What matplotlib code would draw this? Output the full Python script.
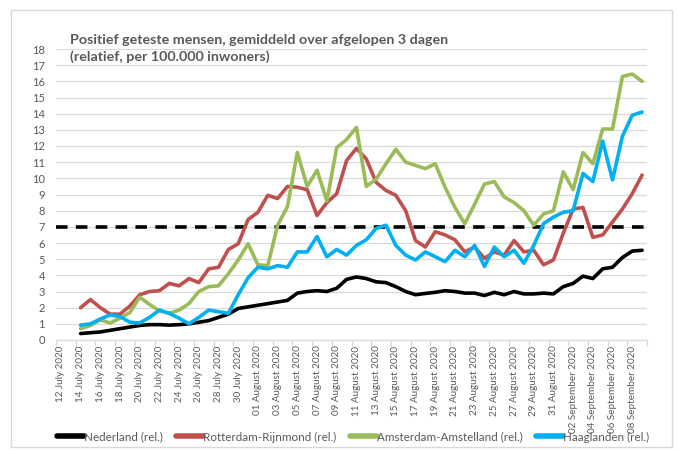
import matplotlib
matplotlib.use("Agg")
import matplotlib.pyplot as plt
import pandas as pd
from matplotlib.patches import Rectangle

# Categories: one per day, 12 July 2020 .. 09 September 2020
dates = pd.date_range("2020-07-12", "2020-09-09", freq="D")
categories = [d.strftime("%d ") + d.strftime("%B %Y") for d in dates]

# series start on 14 July 2020 (category index 2)
start_index = 2

nederland = [0.40, 0.45, 0.50, 0.60, 0.70, 0.80, 0.90, 0.95, 0.95, 0.92,
             0.95, 1.00, 1.10, 1.20, 1.40, 1.60, 1.95, 2.05, 2.15, 2.25,
             2.35, 2.45, 2.90, 3.00, 3.05, 3.00, 3.20, 3.75, 3.90, 3.80,
             3.60, 3.55, 3.30, 3.00, 2.80, 2.88, 2.95, 3.05, 3.00, 2.90,
             2.90, 2.75, 2.95, 2.80, 3.00, 2.85, 2.85, 2.90, 2.85, 3.30,
             3.50, 3.95, 3.80, 4.40, 4.50, 5.10, 5.50, 5.55]

rotterdam = [2.00, 2.50, 2.00, 1.60, 1.60, 2.10, 2.80, 3.00, 3.05, 3.50,
             3.35, 3.80, 3.55, 4.40, 4.50, 5.60, 5.95, 7.45, 7.90, 8.95,
             8.75, 9.50, 9.45, 9.30, 7.70, 8.50, 9.05, 11.10, 11.85, 11.20,
             9.75, 9.25, 8.95, 8.00, 6.15, 5.75, 6.70, 6.50, 6.20, 5.45,
             5.75, 5.05, 5.45, 5.25, 6.15, 5.45, 5.55, 4.65, 4.95, 6.60,
             8.10, 8.20, 6.35, 6.50, 7.30, 8.10, 9.05, 10.20]

amsterdam = [0.70, 0.90, 1.25, 1.05, 1.35, 1.70, 2.65, 2.20, 1.80, 1.65,
             1.85, 2.25, 3.00, 3.30, 3.35, 4.10, 4.95, 5.95, 4.65, 4.60,
             7.10, 8.25, 11.60, 9.50, 10.50, 8.60, 11.90, 12.40, 13.15, 9.50,
             9.95, 10.90, 11.80, 11.00, 10.80, 10.60, 10.90, 9.45, 8.20, 7.20,
             8.40, 9.65, 9.80, 8.85, 8.50, 8.00, 7.10, 7.80, 8.00, 10.40,
             9.30, 11.60, 10.90, 13.05, 13.05, 16.30, 16.45, 16.00]

haaglanden = [0.92, 1.00, 1.30, 1.55, 1.45, 1.10, 1.05, 1.40, 1.85, 1.65,
              1.35, 1.00, 1.40, 1.85, 1.75, 1.65, 2.80, 3.85, 4.50, 4.40,
              4.60, 4.50, 5.45, 5.45, 6.40, 5.15, 5.60, 5.25, 5.85, 6.20,
              6.90, 7.10, 5.85, 5.25, 4.95, 5.45, 5.15, 4.85, 5.55, 5.15,
              5.85, 4.55, 5.75, 5.15, 5.55, 4.75, 5.85, 7.20, 7.60, 7.90,
              8.00, 10.30, 9.80, 12.30, 9.90, 12.60, 13.90, 14.10]

threshold = 7

series_names = ["Nederland (rel.)", "Rotterdam-Rijnmond (rel.)",
                "Amsterdam-Amstelland (rel.)", "Haaglanden (rel.)"]
series_colors = ["#000000", "#C0504D", "#9BBB59", "#00B0F0"]

plt.rcParams['font.family'] = ['Lato', 'DejaVu Sans']
txt_color = "#595959"

fig = plt.figure(figsize=(6.79, 4.5), dpi=100)
# outer chart border
fig.patches.append(Rectangle((11 / 679, 3 / 450), 661 / 679, 437 / 450,
                             transform=fig.transFigure, fill=False,
                             edgecolor="#D9D9D9", linewidth=1.0))

ax = fig.add_axes([56 / 679, 1 - 340 / 450, (647 - 56) / 679, (340 - 49) / 450])

n = len(categories)
xs = list(range(start_index, start_index + len(nederland)))

for vals, name, col in zip([nederland, rotterdam, amsterdam, haaglanden],
                           series_names, series_colors):
    ax.plot(xs, vals, color=col, linewidth=2.6, label=name,
            solid_joinstyle="round", solid_capstyle="round", zorder=3)

ax.axhline(threshold, color="black", linewidth=2.6, linestyle=(0, (3.2, 2.3)), zorder=2)

ax.set_xlim(-0.5, n - 0.5)
ax.set_ylim(0, 18)
ax.set_yticks(range(0, 19))
ax.tick_params(axis="y", length=0, labelsize=8, labelcolor=txt_color, pad=8)
ax.grid(axis="y", color="#D9D9D9", linewidth=0.9, zorder=0)

label_pos = list(range(0, n, 2))
ax.set_xticks(label_pos)
ax.set_xticklabels([categories[i] for i in label_pos], rotation=90,
                   fontsize=7.1, color=txt_color)
ax.set_xticks([i - 0.5 for i in range(0, n + 1, 2)], minor=True)
ax.tick_params(axis="x", which="major", length=0, pad=4)
ax.tick_params(axis="x", which="minor", length=4, color="#D9D9D9", width=0.9)

for side in ["top", "right", "left"]:
    ax.spines[side].set_visible(False)
ax.spines["bottom"].set_color("#D9D9D9")
ax.spines["bottom"].set_linewidth(0.9)
ax.set_axisbelow(True)

fig.text(70 / 679, 1 - 40 / 450, "Positief geteste mensen, gemiddeld over afgelopen 3 dagen",
         fontsize=10.3, fontweight="bold", color=txt_color, va="center", ha="left")
fig.text(70 / 679, 1 - 57 / 450, "(relatief, per 100.000 inwoners)",
         fontsize=10.3, fontweight="bold", color=txt_color, va="center", ha="left")

leg = fig.legend(loc="center", bbox_to_anchor=(353 / 679, 1 - 437 / 450), ncol=4,
                 frameon=False, fontsize=8.4, handlelength=2.3, handletextpad=0.0,
                 columnspacing=1.15, labelcolor=txt_color, borderaxespad=0, borderpad=0)
for h in leg.get_lines():
    h.set_linewidth(4)

fig.savefig("out.png", dpi=100)
